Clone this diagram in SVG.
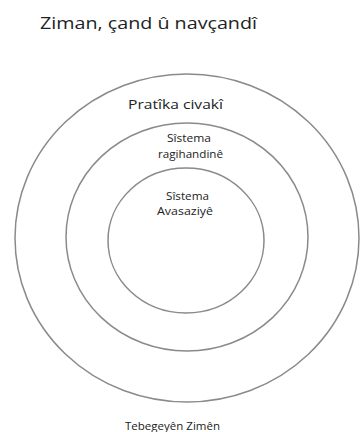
<svg xmlns="http://www.w3.org/2000/svg" width="361" height="432" viewBox="0 0 361 432">
<style>
.ring{fill:none;stroke:#8a8a8a;stroke-width:1.5}
.t{font-family:"Open Sans","Liberation Sans",sans-serif;fill:#222;text-anchor:middle}
</style>
<rect width="361" height="432" fill="#fff"/>
<text class="t" x="148.5" y="29" font-size="16" textLength="217" lengthAdjust="spacingAndGlyphs">Ziman, çand û navçandî</text>
<g id="outer">
<ellipse class="ring" cx="187" cy="238" rx="172" ry="164"/>
<text class="t" x="175.5" y="109" font-size="13" textLength="95" lengthAdjust="spacingAndGlyphs">Pratîka civakî</text>
</g>
<g id="middle">
<ellipse class="ring" cx="187" cy="237" rx="121" ry="114"/>
<text class="t" x="189" y="142" font-size="10" textLength="44" lengthAdjust="spacingAndGlyphs">Sîstema</text>
<text class="t" x="190.5" y="158" font-size="10" textLength="65" lengthAdjust="spacingAndGlyphs">ragihandinê</text>
</g>
<g id="inner">
<ellipse class="ring" cx="186" cy="240.5" rx="78" ry="72.5"/>
<text class="t" x="187.5" y="200" font-size="10" textLength="43" lengthAdjust="spacingAndGlyphs">Sîstema</text>
<text class="t" x="185" y="215" font-size="10" textLength="56" lengthAdjust="spacingAndGlyphs">Avasaziyê</text>
</g>
<g id="label">
<text class="t" x="172.5" y="430" font-size="10" textLength="95" lengthAdjust="spacingAndGlyphs">Tebegeyên Zimên</text>
</g>
<g id="connectors"/>
</svg>
